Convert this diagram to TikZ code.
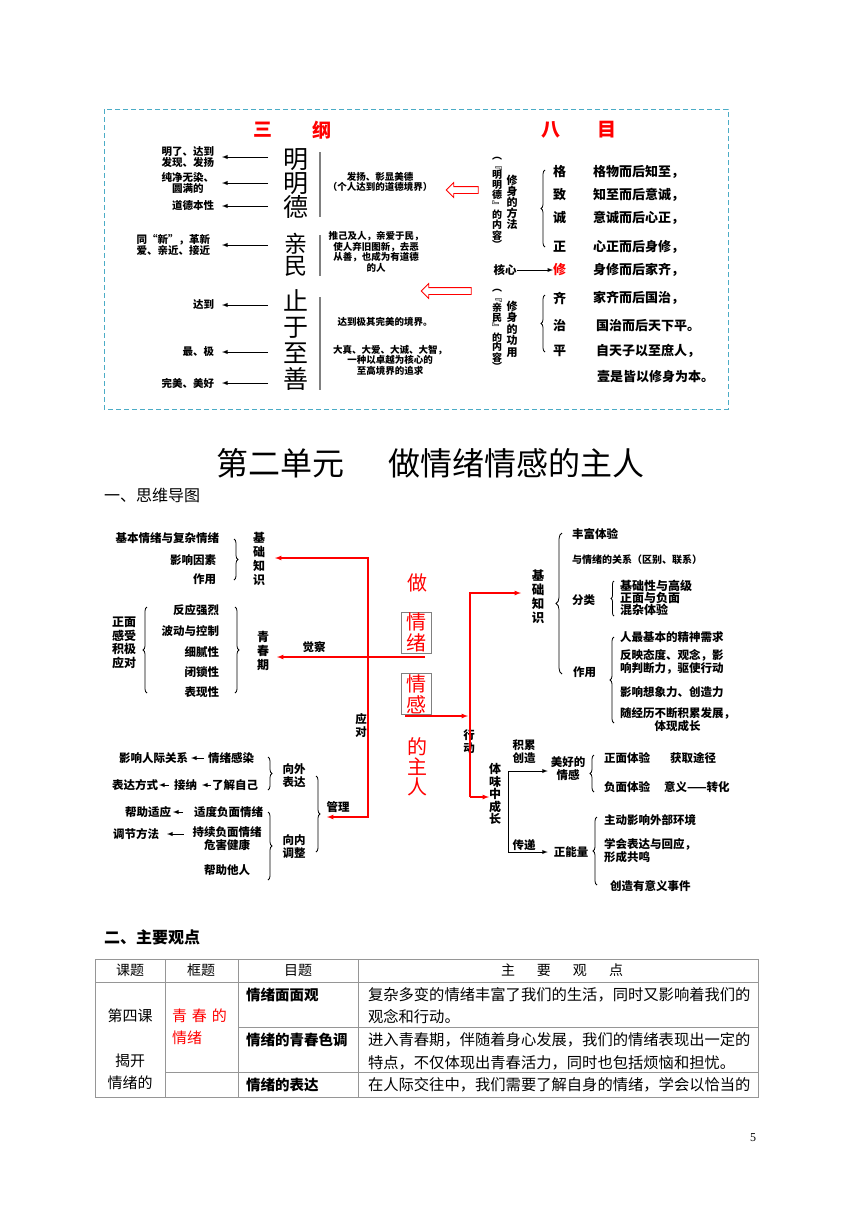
\documentclass[tikz,border=0pt]{standalone}
\usepackage{fontspec}
\setmainfont{Noto Sans CJK SC}
\newfontfamily\numfont{Liberation Serif}
\usetikzlibrary{decorations.pathreplacing,shapes.arrows}
\definecolor{boxblue}{RGB}{75,172,198}
\definecolor{rulegray}{RGB}{128,128,128}
\definecolor{cellgray}{RGB}{150,150,150}
\tikzset{
  tb/.style={inner sep=0pt, outer sep=0pt, align=center},
  lbl/.style={tb, font=\bfseries\fontsize{11.5}{13}\selectfont},
  smalltxt/.style={tb, font=\bfseries\fontsize{9.5}{10.5}\selectfont},
  bigchar/.style={tb, font=\fontsize{25}{24}\selectfont},
  redchar/.style={tb, text=red, font=\fontsize{20}{21}\selectfont},
  sent/.style={tb, anchor=west, font=\bfseries\fontsize{13}{14}\selectfont},
  vtx/.style={tb, font=\bfseries\fontsize{12}{14}\selectfont},
  ttlred/.style={tb, text=red, font=\bfseries\fontsize{19}{19}\selectfont},
  bracel/.style={decorate, decoration={brace, amplitude=4pt}, line width=0.8pt},
  redl/.style={red, line width=1.2pt},
  blkarr/.style={->, line width=0.9pt},
  hollow/.style={single arrow, draw=red, fill=white, line width=0.8pt, inner sep=3pt, minimum width=14pt, single arrow head extend=4pt},
  chbox/.style={draw=rulegray, line width=1pt, minimum width=30pt, minimum height=41pt, inner sep=0pt, align=center, text=red, font=\fontsize{20}{21}\selectfont},
  tcell/.style={tb, anchor=west, font=\fontsize{15.3}{15.3}\selectfont},
  thead/.style={tb, font=\fontsize{14}{14}\selectfont},
  tsub/.style={tb, anchor=west, font=\bfseries\fontsize{14.5}{14.5}\selectfont},
  tline/.style={cellgray, line width=0.8pt}
}
\begin{document}
\begin{tikzpicture}[x=1pt, y=-1pt, >=latex]
\useasboundingbox (0,0) rectangle (860,1216);
\fill[white] (0,0) rectangle (860,1216);

% ---- san gang / ba mu ----
\draw[boxblue, line width=1pt, dash pattern=on 5pt off 3pt] (104,109) rectangle (728,409);
\node[ttlred] (san) at (263,130) {三};
\node[ttlred] (gang) at (322,130) {纲};
\node[ttlred] (ba) at (551,130) {八};
\node[ttlred] (mu) at (607,130) {目};

\node[smalltxt, anchor=east, font=\bfseries\fontsize{10.5}{11.5}\selectfont] (l1) at (214,157) {明了、达到\\发现、发扬};
\node[smalltxt, anchor=east, font=\bfseries\fontsize{10.5}{11.5}\selectfont] (l2) at (214,183) {纯净无染、\\圆满的};
\node[smalltxt, anchor=east, font=\bfseries\fontsize{10.5}{11.5}\selectfont] (l3) at (214,206) {道德本性};
\node[smalltxt, anchor=east, align=left, font=\bfseries\fontsize{10.5}{11.5}\selectfont] (l4) at (210,245) {同“新”，革新\\爱、亲近、接近};
\node[smalltxt, anchor=east, font=\bfseries\fontsize{10.5}{11.5}\selectfont] (l5) at (214,305) {达到};
\node[smalltxt, anchor=east, font=\bfseries\fontsize{10.5}{11.5}\selectfont] (l6) at (214,352) {最、极};
\node[smalltxt, anchor=east, font=\bfseries\fontsize{10.5}{11.5}\selectfont] (l7) at (214,383) {完美、美好};
\foreach \n in {l1,l2,l3,l5,l6,l7}
  \draw[blkarr] ([xshift=54pt]\n.east) -- ([xshift=8pt]\n.east);
\draw[blkarr] ([xshift=58pt]l4.east) -- ([xshift=12pt]l4.east);

\node[bigchar] (mmd) at (296,184) {明\\明\\德};
\node[bigchar, font=\fontsize{23}{22.5}\selectfont] (qm) at (296,255) {亲\\民};
\node[bigchar, font=\fontsize{25}{25.7}\selectfont] (zyzs) at (296,340) {止\\于\\至\\善};
\draw[rulegray, line width=1.5pt] (320,152) -- (320,217);
\draw[rulegray, line width=1.5pt] (320,235) -- (320,276);
\draw[rulegray, line width=1.5pt] (320,297) -- (320,390);

\node[smalltxt] (d1) at (380,182) {发扬、彰显美德\\（个人达到的道德境界）};
\node[smalltxt] (d2) at (376,252) {推己及人，亲爱于民，\\使人弃旧图新，去恶\\从善，也成为有道德\\的人};
\node[smalltxt] (d3) at (385,322) {达到极其完美的境界。};
\node[smalltxt] (d4) at (390,360) {大真、大爱、大诚、大智，\\一种以卓越为核心的\\至高境界的追求};

\node[hollow, shape border rotate=180, minimum height=32pt] (ha1) at (464,190) {};
\node[hollow, shape border rotate=159, minimum height=50pt] (ha2) at (448,291) {};

\node[vtx, font=\bfseries\fontsize{10}{9.5}\selectfont] (mmdnr) at (497,203) {︵\\﹃\\明\\明\\德\\﹄\\的\\内\\容\\︶};
\node[vtx, font=\bfseries\fontsize{11}{11}\selectfont] (xsff) at (512,202) {修\\身\\的\\方\\法};
\node[vtx, font=\bfseries\fontsize{10}{9.5}\selectfont] (qmnr) at (497,330) {︵\\﹃\\亲\\民\\﹄\\的\\内\\容\\︶};
\node[vtx, font=\bfseries\fontsize{11}{11.5}\selectfont] (xsgy) at (512,329) {修\\身\\的\\功\\用};
\node[lbl] (hx) at (505,270) {核心};

\draw[bracel] (545,247) -- (545,170);
\draw[bracel] (545,352) -- (545,295);
\node[sent] (ge) at (553,172) {格};
\node[sent] (zhi) at (553,195) {致};
\node[sent] (cheng) at (553,218) {诚};
\node[sent] (zheng) at (553,247) {正};
\node[sent, text=red] (xiu) at (553,270) {修};
\node[sent] (qi) at (553,298) {齐};
\node[sent] (zhi2) at (553,326) {治};
\node[sent] (ping) at (553,351) {平};
\draw[blkarr] (hx) -- (xiu);
\node[sent] (s1) at (593,172) {格物而后知至，};
\node[sent] (s2) at (593,195) {知至而后意诚，};
\node[sent] (s3) at (593,218) {意诚而后心正，};
\node[sent] (s4) at (593,247) {心正而后身修，};
\node[sent] (s5) at (593,270) {身修而后家齐，};
\node[sent] (s6) at (593,298) {家齐而后国治，};
\node[sent] (s7) at (596,326) {国治而后天下平。};
\node[sent] (s8) at (596,351) {自天子以至庶人，};
\node[sent] (s9) at (597,377) {壹是皆以修身为本。};

% ---- unit title ----
\node[tb, font=\fontsize{32}{32}\selectfont] (unit) at (430,463) {第二单元\hspace{44pt}做情绪情感的主人};
\node[tb, anchor=west, font=\fontsize{16}{16}\selectfont] (sec1) at (104,495) {一、思维导图};

% ---- mind map, left ----
\node[lbl, anchor=east] (jb1) at (219,538) {基本情绪与复杂情绪};
\node[lbl, anchor=east] (jb2) at (216,560) {影响因素};
\node[lbl, anchor=east] (jb3) at (216,579) {作用};
\draw[bracel] (234,539) -- (234,580);
\node[vtx] (jczs) at (259,559) {基\\础\\知\\识};

\node[vtx, font=\bfseries\fontsize{12}{13.5}\selectfont] (zmgs) at (124,643) {正面\\感受\\积极\\应对};
\draw[bracel] (147,693) -- (147,607);
\node[lbl, anchor=east] (q1) at (219,610) {反应强烈};
\node[lbl, anchor=east] (q2) at (219,631) {波动与控制};
\node[lbl, anchor=east] (q3) at (219,652) {细腻性};
\node[lbl, anchor=east] (q4) at (219,672) {闭锁性};
\node[lbl, anchor=east] (q5) at (219,692) {表现性};
\draw[bracel] (235,607) -- (235,693);
\node[vtx] (qcq) at (263,651) {青\\春\\期};
\node[lbl] (jc) at (314,647) {觉察};

\node[lbl, anchor=west] (yxrj) at (119,758) {影响人际关系};
\node[lbl, anchor=west] (qxgr) at (208,758) {情绪感染};
\node[lbl, anchor=west] (bdfs) at (112,785) {表达方式};
\node[lbl, anchor=west] (jn) at (174,785) {接纳};
\node[lbl, anchor=west] (ljzj) at (212,785) {了解自己};
\node[lbl, anchor=west] (bzsy) at (125,812) {帮助适应};
\node[lbl, anchor=west] (sdfm) at (194,812) {适度负面情绪};
\node[lbl, anchor=west] (tjff) at (113,834) {调节方法};
\node[lbl, anchor=north] (cxfm) at (227,827) {持续负面情绪\\危害健康};
\node[lbl, anchor=west] (bztr) at (204,870) {帮助他人};
\draw[blkarr, shorten <=4pt, shorten >=3pt] (qxgr.west) -- (yxrj.east);
\draw[blkarr, shorten <=5pt, shorten >=1pt] (jn.west) -- (bdfs.east);
\draw[blkarr, shorten <=1pt, shorten >=5pt] (ljzj.west) -- (jn.east);
\draw[blkarr, shorten <=11pt, shorten >=2pt] (sdfm.west) -- (bzsy.east);
\draw[blkarr, shorten <=9pt, shorten >=8pt] (tjff.east -| cxfm.west) -- (tjff.east);
\draw[bracel] (268,757) -- (268,790);
\draw[bracel] (268,812) -- (268,880);
\node[lbl] (xwbd) at (294,776) {向外\\表达};
\node[lbl] (xntz) at (294,847) {向内\\调整};
\draw[bracel] (316,776) -- (316,852);
\node[lbl] (gl) at (338,807) {管理};

% ---- mind map, centre ----
\node[redchar] (zuo) at (417,583) {做};
\node[chbox] (qx) at (416.5,632.5) {情\\绪};
\node[chbox] (qg) at (416.5,694) {情\\感};
\node[redchar, font=\fontsize{20}{20}\selectfont] (dzr) at (417,767) {的\\主\\人};
\node[lbl] (yd) at (361,726) {应\\对};
\node[lbl] (xd) at (469,742) {行\\动};

\coordinate (ytop) at (368,558);
\coordinate (ybot) at (368,817);
\coordinate (jcin) at (275,558);
\coordinate (glin) at (327,817);
\coordinate (qxout) at (425,657);
\coordinate (qcin) at (277,657);
\coordinate (qgout) at (405,716);
\coordinate (xdin) at (468,716);
\coordinate (xtop) at (470,593);
\coordinate (xbot) at (470,797);
\coordinate (jcin2) at (521,593);
\draw[redl, ->] (ybot) -- (ytop) -- (jcin);
\draw[redl, ->] (ytop) |- (glin);
\draw[redl, ->] (qxout) -- (qcin);
\draw[redl, ->] (qgout) -- (xdin);
\draw[redl, ->] (xbot) -- (xtop) -- (jcin2);

% ---- mind map, right ----
\node[vtx, font=\bfseries\fontsize{12.5}{14}\selectfont] (jczs2) at (538,597) {基\\础\\知\\识};
\draw[bracel, decoration={amplitude=6pt}] (562,674) -- (562,533);
\node[lbl, anchor=west] (ff) at (572,534) {丰富体验};
\node[lbl, anchor=west, font=\bfseries\fontsize{10}{11}\selectfont] (gx) at (572,560) {与情绪的关系（区别、联系）};
\node[lbl, anchor=west] (fl) at (572,600) {分类};
\draw[bracel, decoration={amplitude=3pt}] (614,616) -- (614,581);
\node[lbl, anchor=west, align=left, font=\bfseries\fontsize{12}{12}\selectfont] (fl1) at (620,598) {基础性与高级\\正面与负面\\混杂体验};
\node[lbl, anchor=west] (zy) at (573,672) {作用};
\draw[bracel] (614,723) -- (614,637);
\node[lbl, anchor=west] (zy1) at (620,637) {人最基本的精神需求};
\node[lbl, anchor=west, align=left] (zy2) at (620,662) {反映态度、观念，影\\响判断力，驱使行动};
\node[lbl, anchor=west] (zy3) at (620,692) {影响想象力、创造力};
\node[lbl, anchor=west] (zy4) at (620,720) {随经历不断积累发展，\\体现成长};

\node[vtx, font=\bfseries\fontsize{12}{12.5}\selectfont] (twz) at (495,794) {体\\味\\中\\成\\长};
\draw[redl, ->] (xbot) -- (twz.west |- xbot);
\node[lbl] (jlcz) at (524,752) {积累\\创造};
\node[lbl] (mhqg) at (568,769) {美好的\\情感};
\node[lbl] (cd) at (524,845) {传递};
\node[lbl] (znl) at (571,852) {正能量};
\coordinate (tw1) at (508,771);
\coordinate (tw2) at (508,852);
\draw[line width=0.9pt] (tw1) -- (tw2);
\draw[blkarr, shorten >=3pt] (tw1) -- (mhqg.west |- tw1);
\draw[blkarr, shorten >=6pt] (tw2) -- (znl.west |- tw2);
\draw[bracel] (594,792) -- (594,755);
\node[lbl, anchor=west] (zmty) at (604,758) {正面体验};
\node[lbl, anchor=west] (hqtj) at (670,758) {获取途径};
\node[lbl, anchor=west] (fmty) at (604,787) {负面体验};
\node[lbl, anchor=west] (yyzh) at (664,787) {意义——转化};
\draw[bracel] (597,885) -- (597,817);
\node[lbl, anchor=west] (zd) at (604,820) {主动影响外部环境};
\node[lbl, anchor=west, align=left] (xh) at (604,851) {学会表达与回应，\\形成共鸣};
\node[lbl, anchor=west] (cz) at (610,886) {创造有意义事件};

% ---- main points table ----
\node[tb, anchor=west, font=\bfseries\fontsize{16}{16}\selectfont] (sec2) at (104,937) {二、主要观点};
\draw[tline] (95,959) rectangle (758,1097);
\draw[tline] (95,982) -- (758,982);
\draw[tline] (238,1027) -- (758,1027);
\draw[tline] (165,1072) -- (758,1072);
\foreach \cx in {165,238,358}
  \draw[tline] (\cx,959) -- (\cx,1097);
\node[thead] (h1) at (130,970) {课题};
\node[thead] (h2) at (201,970) {框题};
\node[thead] (h3) at (298,970) {目题};
\node[thead] (h4) at (562,970) {主\hspace{22pt}要\hspace{22pt}观\hspace{22pt}点};
\node[tb, font=\fontsize{15}{15}\selectfont] (k1) at (130,1016) {第四课};
\node[tb, font=\fontsize{15}{15}\selectfont] (k2) at (130,1061) {揭开};
\node[tb, font=\fontsize{15}{15}\selectfont] (k3) at (130,1083) {情绪的};
\node[tb, anchor=west, text=red, font=\fontsize{15}{15}\selectfont] (f1) at (172,1016) {青\hspace{5pt}春\hspace{5pt}的};
\node[tb, anchor=west, text=red, font=\fontsize{15}{15}\selectfont] (f2) at (172,1038) {情绪};
\node[tsub] (m1) at (246,995) {情绪面面观};
\node[tsub] (m2) at (246,1040) {情绪的青春色调};
\node[tsub] (m3) at (246,1085) {情绪的表达};
\node[tcell] (p1) at (368,995) {复杂多变的情绪丰富了我们的生活，同时又影响着我们的};
\node[tcell] (p2) at (368,1017) {观念和行动。};
\node[tcell] (p3) at (368,1040) {进入青春期，伴随着身心发展，我们的情绪表现出一定的};
\node[tcell] (p4) at (368,1063) {特点，不仅体现出青春活力，同时也包括烦恼和担忧。};
\node[tcell] (p5) at (368,1085) {在人际交往中，我们需要了解自身的情绪，学会以恰当的};

\node[tb, font=\numfont\fontsize{12}{12}\selectfont] (pg) at (753,1138) {5};
\end{tikzpicture}
\end{document}
